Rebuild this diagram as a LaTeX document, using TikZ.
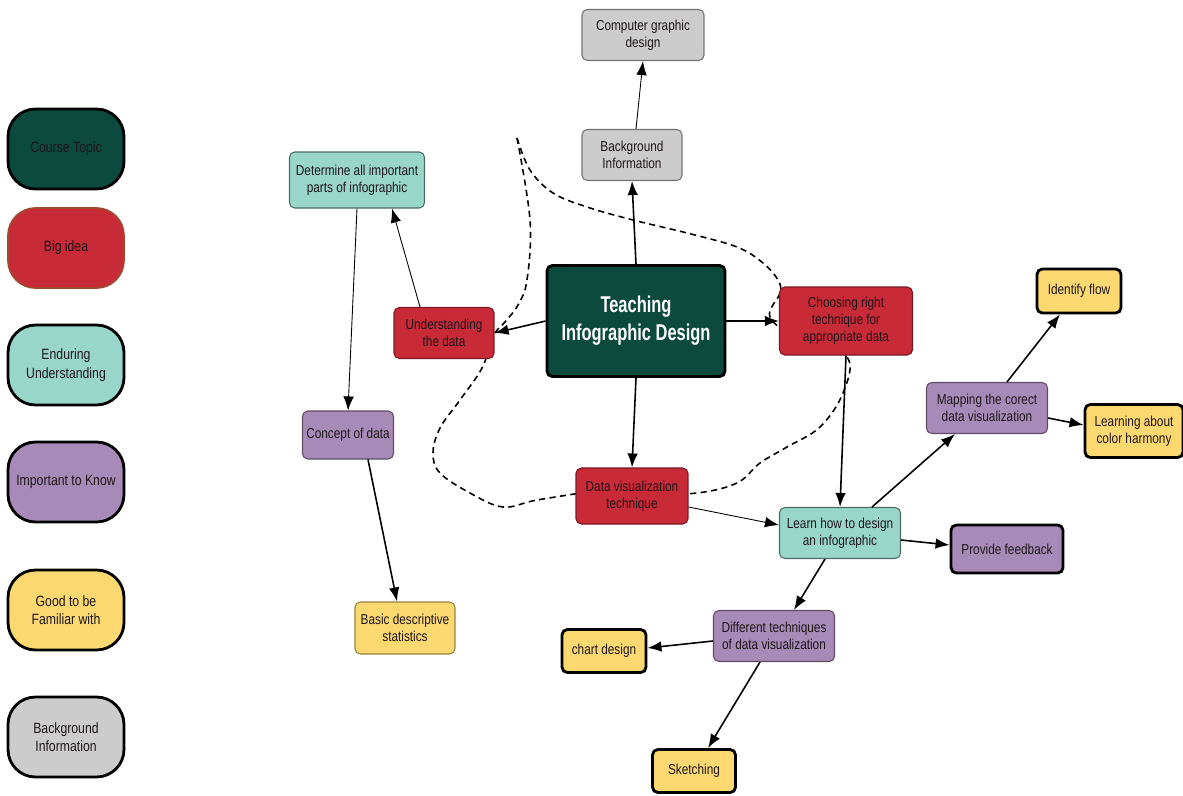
\documentclass[tikz,border=0pt]{standalone}
\usepackage{fontspec}
\setmainfont{Liberation Sans}[FakeStretch=0.82]
\newfontfamily\titlefont{Liberation Sans}[FakeStretch=0.72]
\usepackage{xcolor}
\usepackage{tikz}
\usetikzlibrary{arrows.meta,calc}

\definecolor{cTopic}{RGB}{11,74,60}
\definecolor{cIdea}{RGB}{201,42,56}
\definecolor{cEnduring}{RGB}{153,214,202}
\definecolor{cImportant}{RGB}{168,138,184}
\definecolor{cFamiliar}{RGB}{252,216,112}
\definecolor{cBackground}{RGB}{204,204,204}
\definecolor{cText}{RGB}{30,22,26}

\tikzstyle{tsText} = [
    text=cText,
    font=\fontsize{8.2}{9.8}\selectfont,
    align=center
]
\tikzstyle{tsBox} = [
    rectangle,
    tsText,
    rounded corners=3pt,
    inner sep=2pt,
    line width=0.6pt]
\tikzstyle{tsIdea} = [tsBox, fill=cIdea, draw=cIdea!60!black]
\tikzstyle{tsEnduring} = [tsBox, fill=cEnduring, draw=cEnduring!50!black]
\tikzstyle{tsImportant} = [tsBox, fill=cImportant, draw=cImportant!55!black]
\tikzstyle{tsFamiliar} = [tsBox, fill=cFamiliar, draw=cFamiliar!60!black]
\tikzstyle{tsBackground} = [tsBox, fill=cBackground, draw=black!55]
\tikzstyle{tsHeavy} = [draw=black, line width=1.6pt]
\tikzstyle{tsLegend} = [
    rectangle,
    tsText,
    font=\fontsize{8.5}{10.5}\selectfont,
    rounded corners=0.55cm,
    draw=black,
    line width=1.6pt,
    minimum width=2.32cm,
    minimum height=1.6cm]
\tikzstyle{tsArrow} = [-{Latex[length=8pt,width=6pt]}, line width=0.9pt]
\tikzstyle{tsThinArrow} = [tsArrow, line width=0.5pt]
\tikzstyle{tsBoundary} = [dashed, dash pattern=on 3.5pt off 2.5pt, line width=0.9pt]

\begin{document}
\begin{tikzpicture}[x=0.02cm, y=-0.02cm]

    \useasboundingbox (0,0) rectangle (1183,795);

    % boundary of the big ideas
    \draw[tsBoundary] plot[smooth, tension=0.6] coordinates {
        (517,138) (530,220) (527,280) (518,305) (505,322) (494,335)
        (482,368) (460,400) (440,428) (433,453) (440,473) (470,493)
        (503,507) (537,500) (600,490)};
    \draw[tsBoundary] plot[smooth, tension=0.6] coordinates {
        (517,138) (530,170) (553,193) (587,207) (633,220) (687,233)
        (737,247) (763,263) (778,280) (780,293) (770,317) (800,340)
        (847,357) (843,393) (820,427) (787,447) (760,463) (737,483)
        (697,493) (640,495)};

    % legend
    \node[tsLegend, fill=cTopic] (lgTopic) at (66,149) {Course Topic};
    \node[tsLegend, fill=cIdea, draw=cIdea!40!brown!80!black, line width=1pt] (lgIdea) at (66,248) {Big idea};
    \node[tsLegend, fill=cEnduring] (lgEnduring) at (66,365) {Enduring\\Understanding};
    \node[tsLegend, fill=cImportant] (lgImportant) at (66,482) {Important to Know};
    \node[tsLegend, fill=cFamiliar] (lgFamiliar) at (66,610) {Good to be\\Familiar with};
    \node[tsLegend, fill=cBackground] (lgBackground) at (66,737) {Background\\Information};

    % map
    \node[tsBox, tsHeavy, fill=cTopic, text=white,
          font=\titlefont\bfseries\fontsize{13}{16}\selectfont,
          minimum width=3.56cm, minimum height=2.22cm] (teaching) at (636,321)
          {Teaching\\Infographic Design};

    \node[tsBackground, minimum width=2.44cm, minimum height=1.02cm] (compgfx) at (643,35) {Computer graphic\\design};
    \node[tsBackground, minimum width=2.0cm, minimum height=1.02cm] (bginfo) at (632,155) {Background\\Information};

    \node[tsEnduring, minimum width=2.7cm, minimum height=1.12cm] (determine) at (357,180) {Determine all important\\parts of infographic};
    \node[tsIdea, minimum width=2.0cm, minimum height=1.02cm] (understanding) at (444,333) {Understanding\\the data};
    \node[tsIdea, minimum width=2.66cm, minimum height=1.36cm] (choosing) at (846,321) {Choosing right\\technique for\\appropriate data};
    \node[tsImportant, minimum width=1.82cm, minimum height=0.96cm] (concept) at (348,435) {Concept of data};
    \node[tsIdea, minimum width=2.24cm, minimum height=1.12cm] (dataviz) at (632,496) {Data visualization\\technique};
    \node[tsFamiliar, minimum width=2.0cm, minimum height=1.04cm] (basicstats) at (405,628) {Basic descriptive\\statistics};

    \node[tsEnduring, minimum width=2.42cm, minimum height=1.02cm] (learn) at (840,533) {Learn how to design\\an infographic};
    \node[tsImportant, minimum width=2.42cm, minimum height=1.02cm] (mapping) at (987,408) {Mapping the corect\\data visualization};
    \node[tsFamiliar, tsHeavy, minimum width=1.68cm, minimum height=0.88cm] (identify) at (1079,291) {Identify flow};
    \node[tsFamiliar, tsHeavy, minimum width=1.96cm, minimum height=1.06cm] (colorharm) at (1134,431) {Learning about\\color harmony};
    \node[tsImportant, tsHeavy, minimum width=2.24cm, minimum height=0.96cm] (feedback) at (1007,549) {Provide feedback};
    \node[tsImportant, minimum width=2.42cm, minimum height=1.02cm] (different) at (774,636) {Different techniques\\of data visualization};
    \node[tsFamiliar, tsHeavy, minimum width=1.68cm, minimum height=0.86cm] (chart) at (604,651) {chart design};
    \node[tsFamiliar, tsHeavy, minimum width=1.66cm, minimum height=0.86cm] (sketching) at (694,771) {Sketching};

    % connectors
    \draw[tsArrow] (teaching.north) -- (bginfo.south);
    \draw[tsThinArrow] ([xshift=0.08cm]bginfo.north) -- (compgfx.south);
    \draw[tsArrow] (teaching.west) -- (understanding.east);
    \draw[tsThinArrow] ([xshift=-0.48cm]understanding.north) -- ([xshift=0.7cm]determine.south);
    \draw[tsThinArrow] (determine.south) -- (concept.north);
    \draw[tsArrow] ([xshift=0.4cm]concept.south) -- ([xshift=-0.16cm]basicstats.north);
    \draw[tsArrow] (teaching.east) -- (choosing.west);
    \draw[tsArrow] (teaching.south) -- (dataviz.north);
    \draw[tsArrow] (choosing.south) -- (learn.north);
    \draw[tsThinArrow] ([yshift=-0.22cm]dataviz.east) -- ([yshift=0.16cm]learn.west);
    \draw[tsArrow] ([xshift=0.64cm]learn.north) -- ([xshift=-0.64cm]mapping.south);
    \draw[tsArrow] ([xshift=0.4cm]mapping.north) -- ([xshift=-0.38cm]identify.south);
    \draw[tsArrow] ([yshift=-0.2cm]mapping.east) -- ([yshift=0.12cm]colorharm.west);
    \draw[tsArrow] ([yshift=-0.14cm]learn.east) -- ([yshift=0.08cm]feedback.west);
    \draw[tsArrow] ([xshift=-0.3cm]learn.south) -- ([xshift=0.4cm]different.north);
    \draw[tsArrow] ([yshift=-0.1cm]different.west) -- ([yshift=0.06cm]chart.east);
    \draw[tsArrow] ([xshift=-0.28cm]different.south) -- ([xshift=0.28cm]sketching.north);

\end{tikzpicture}
\end{document}
